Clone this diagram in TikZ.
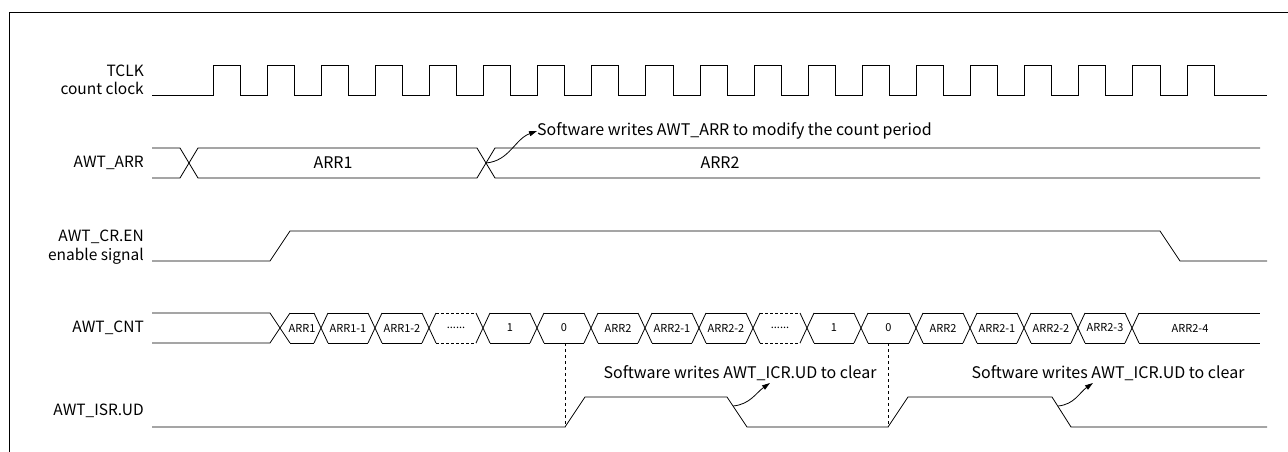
\documentclass[tikz,border=0pt]{standalone}
\usepackage{fontspec}
\setmainfont{Noto Sans CJK SC}
\usetikzlibrary{arrows.meta}
\newcommand{\cntgap}{......}

\begin{document}
\begin{tikzpicture}[
    x=1pt, y=-1pt,
    wave/.style={draw, line width=0.8pt},
    gapline/.style={dash pattern=on 3pt off 2pt},
    sig/.style={anchor=east, align=right, inner sep=0pt, font=\fontsize{15.5}{18.5}\selectfont},
    cell/.style={inner sep=0pt, font=\fontsize{11}{13}\selectfont},
    bus/.style={inner sep=0pt, font=\fontsize{16}{18}\selectfont},
    note/.style={inner sep=0pt, font=\fontsize{16}{18}\selectfont},
    hint/.style={-{Triangle[length=8pt,width=5pt]}, line width=0.8pt},
    guide/.style={dashed, line width=0.6pt}
]
    \useasboundingbox (0,0) rectangle (1288,452);
    \draw[line width=1pt] (9,452) -- (9,13) -- (1288,13);

    \node[sig] (tclk) at (144,80) {TCLK\\count clock};
    \node[sig] (arr) at (144,163) {AWT\_ARR};
    \node[sig] (en) at (144,247) {AWT\_CR.EN\\enable signal};
    \node[sig] (cnt) at (144,328) {AWT\_CNT};
    \node[sig] (ud) at (144,411) {AWT\_ISR.UD};

    \draw[wave] (152,95) \foreach \i in {0,...,18}{
        -- ({213+54.11*\i},95) -- ++(0,-30) -- ++(27.05,0) -- ++(0,30)} -- (1267,95);

    \draw[wave] (152,148) -- (180,148) -- (198,178) -- (477,178) -- (495,148) -- (1260,148);
    \draw[wave] (152,178) -- (180,178) -- (198,148) -- (477,148) -- (495,178) -- (1260,178);
    \node[bus] (arr1) at (333,163) {ARR1};
    \node[bus] (arr2) at (720,163) {ARR2};
    \coordinate (arrx) at (486,163);
    \node[note, anchor=west] (arrnote) at (537,131) {Software writes AWT\_ARR to modify the count period};
    \draw[hint] (arrx) to[out=5,in=200] (arrnote.west);

    \draw[wave] (152,261) -- (270,261) -- (290,231) -- (1160,231) -- (1180,261) -- (1267,261);

    \draw[wave] (152,313) -- (270,313) -- (290,343) (152,343) -- (270,343) -- (290,313);
    \foreach \a/\b/\t/\s [count=\i] in {290/321/ARR1/solid, 328/375/ARR1-1/solid,
        382/429/ARR1-2/solid, 436/483/\cntgap/gapline, 490/537/1/solid, 544/591/0/solid,
        598/645/ARR2/solid, 652/699/ARR2-1/solid, 706/753/ARR2-2/solid,
        760/807/\cntgap/gapline, 814/861/1/solid, 868/916/0/solid, 923/970/ARR2/solid,
        977/1024/ARR2-1/solid, 1031/1078/ARR2-2/solid, 1085/1132/ARR2-3/solid}{
        \draw[wave, \s] (\a,313) -- ({\b-7},313) (\a,343) -- ({\b-7},343);
        \draw[wave] ({\b-7},313) -- ({\b+7},343) ({\b-7},343) -- ({\b+7},313);
        \node[cell] (cnt\i) at ({(\a+\b-7)/2},328) {\t};
    }
    \draw[wave] (1139,313) -- (1260,313) (1139,343) -- (1260,343);
    \node[cell] (cnt17) at (1190,328) {ARR2-4};

    \draw[wave] (152,427) -- (565,427) -- (585,397) -- (727,397) -- (747,427) -- (888,427)
        -- (908,397) -- (1052,397) -- (1071,427) -- (1267,427);
    \coordinate (zeroA) at (565,343);
    \coordinate (riseA) at (565,427);
    \coordinate (zeroB) at (888,343);
    \coordinate (riseB) at (888,427);
    \draw[guide] (zeroA) -- (riseA);
    \draw[guide] (zeroB) -- (riseB);

    \node[note] (clrA) at (740,373) {Software writes AWT\_ICR.UD to clear};
    \node[note] (clrB) at (1108,373) {Software writes AWT\_ICR.UD to clear};
    \coordinate (fallA) at (733,406);
    \coordinate (tipA) at (770,383);
    \coordinate (fallB) at (1058,406);
    \coordinate (tipB) at (1093,383);
    \draw[hint] (fallA) to[out=5,in=215] (tipA);
    \draw[hint] (fallB) to[out=5,in=215] (tipB);
\end{tikzpicture}
\end{document}
